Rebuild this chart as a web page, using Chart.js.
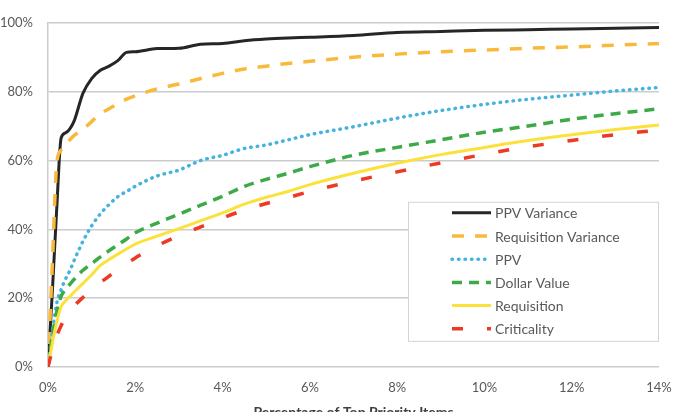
<!DOCTYPE html>
<html>
<head>
    <meta charset="utf-8">
    <title>Top Priority Items Coverage</title>
    <script src="https://cdn.jsdelivr.net/npm/chart.js"></script>
    <style>
        html, body { margin: 0; padding: 0; background: #fff; overflow: hidden; }
        .chart-box { width: 677px; height: 424px; position: relative; }
    </style>
</head>
<body>
    <div class="chart-box">
        <canvas id="coverageChart"></canvas>
    </div>

    <script>
        // percentage of top priority items (x, in %)
        const topItemsPct = [0, 0.1, 0.2, 0.3, 0.4, 0.5, 0.6, 0.8, 1.0, 1.2, 1.4, 1.6, 1.8, 2.0, 2.5,
                             3.0, 3.5, 4.0, 4.5, 5.0, 5.5, 6.0, 7.0, 8.0, 9.0, 10, 11, 12, 13, 14];

        // cumulative share captured (y, in %)
        const ppvVariance = [0, 22, 46, 66.5, 68, 69.2, 71.5, 79.5, 83.8, 86.2, 87.4, 89, 91.4, 91.6, 92.5,
                             92.6, 93.8, 94, 94.8, 95.3, 95.6, 95.8, 96.3, 97.2, 97.5, 97.8, 98, 98.2, 98.4, 98.6];
        const requisitionVariance = [0, 30, 59, 63, 64.7, 66, 67.3, 69, 71.3, 73.6, 75, 76.5, 77.8, 78.8, 80.8,
                             82.2, 83.8, 85.3, 86.6, 87.4, 88.2, 88.8, 90, 90.9, 91.6, 92.1, 92.6, 93, 93.5, 94];
        const ppv = [0, 10, 18.5, 22.5, 25.5, 28, 31, 36.5, 41, 44.5, 47.2, 49.5, 51, 52.5, 55.5,
                             57.2, 60, 61.5, 63.5, 64.5, 66, 67.5, 69.8, 72.3, 74.5, 76.3, 77.8, 79, 80.2, 81.2];
        const dollarValue = [0, 9, 16, 20.5, 22.5, 24, 25.5, 28.1, 30, 32, 33.8, 35.5, 37.2, 39, 41.8,
                             44.4, 47, 49.6, 52.5, 54.5, 56.3, 58.2, 61.5, 63.8, 66, 68.2, 70, 72, 73.6, 75];
        const requisition = [0, 7, 13, 17.5, 19.2, 20.5, 21.8, 24.3, 26.8, 29.5, 31.2, 32.8, 34.3, 35.7, 38,
                             40.2, 42.5, 44.8, 47.3, 49.3, 51, 53, 56.3, 59.2, 61.7, 63.8, 65.8, 67.5, 69, 70.3];
        const criticality = [0, 5, 9, 12, 14.2, 16, 17.7, 20.2, 22.5, 24.5, 26.4, 28.3, 30, 31.7, 35.2,
                             38.2, 40.7, 43.3, 45.6, 47.5, 49.2, 51, 54, 56.7, 59.3, 61.8, 64, 65.8, 67.5, 68.8];

        const seriesNames = ['PPV Variance', 'Requisition Variance', 'PPV', 'Dollar Value', 'Requisition', 'Criticality'];
        const seriesValues = [ppvVariance, requisitionVariance, ppv, dollarValue, requisition, criticality];

        const seriesStyles = [
            { color: '#262626', width: 3,   dash: [],        cap: 'butt' },
            { color: '#F9BA3C', width: 3.5, dash: [12, 11],  cap: 'butt' },
            { color: '#45B3E0', width: 3.5, dash: [0.5, 6],  cap: 'round' },
            { color: '#3BAA47', width: 3.5, dash: [10, 7],   cap: 'butt' },
            { color: '#FCE13A', width: 3,   dash: [],        cap: 'butt' },
            { color: '#EC3A25', width: 3.5, dash: [11, 24],  cap: 'butt' }
        ];

        const textFont = 'Lato, "Open Sans", sans-serif';
        const gridColor = '#cccccc';

        const datasets = seriesNames.map((name, i) => ({
            label: name,
            data: topItemsPct.map((x, j) => ({ x: x, y: seriesValues[i][j] })),
            borderColor: seriesStyles[i].color,
            backgroundColor: seriesStyles[i].color,
            borderWidth: seriesStyles[i].width,
            borderDash: seriesStyles[i].dash,
            borderCapStyle: seriesStyles[i].cap,
            pointRadius: 0,
            fill: false,
            cubicInterpolationMode: 'monotone',
            order: seriesNames.length - i
        }));

        // legend box drawn inside the plot, lower right
        const insideLegend = {
            id: 'insideLegend',
            afterDatasetsDraw(chart) {
                const ctx = chart.ctx;
                const area = chart.chartArea;
                const boxW = 250, boxH = 139;
                const left = area.right - boxW - 1;
                const top = area.top + 179;
                ctx.save();
                ctx.fillStyle = '#ffffff';
                ctx.fillRect(left, top, boxW, boxH);
                ctx.strokeStyle = '#d4d4d4';
                ctx.lineWidth = 1;
                ctx.strokeRect(left + 0.5, top + 0.5, boxW, boxH);
                ctx.font = '14px ' + textFont;
                ctx.textBaseline = 'middle';
                ctx.textAlign = 'left';
                chart.data.datasets.forEach((ds, i) => {
                    const y = top + 11 + i * 23.2;
                    ctx.beginPath();
                    ctx.strokeStyle = ds.borderColor;
                    ctx.lineWidth = ds.borderWidth;
                    ctx.setLineDash(ds.borderDash);
                    ctx.lineCap = ds.borderCapStyle;
                    ctx.moveTo(left + 44, y);
                    ctx.lineTo(left + 83, y);
                    ctx.stroke();
                    ctx.setLineDash([]);
                    ctx.fillStyle = '#595959';
                    ctx.fillText(ds.label, left + 87, y + 1);
                });
                ctx.restore();
            }
        };

        const ctx = document.getElementById('coverageChart').getContext('2d');
        const chart = new Chart(ctx, {
            type: 'line',
            data: { datasets: datasets },
            plugins: [insideLegend],
            options: {
                responsive: true,
                maintainAspectRatio: false,
                animation: false,
                devicePixelRatio: 1,
                layout: { padding: { top: 22, right: 18, left: 0, bottom: 0 } },
                plugins: {
                    legend: { display: false },
                    tooltip: { enabled: false }
                },
                scales: {
                    x: {
                        type: 'linear',
                        min: 0,
                        max: 14,
                        afterFit: (scale) => {
                            scale.height = 57;
                            scale.paddingLeft = 0;
                            scale.paddingRight = 0;
                        },
                        ticks: {
                            stepSize: 2,
                            padding: 13,
                            color: '#595959',
                            font: { family: textFont, size: 13 },
                            callback: (v) => v + '%'
                        },
                        grid: { display: false, drawTicks: false },
                        border: { display: false },
                        title: {
                            display: true,
                            text: 'Percentage of Top Priority Items',
                            color: '#404040',
                            font: { family: textFont, size: 14, weight: 'bold' },
                            padding: { top: 0, bottom: 3 }
                        }
                    },
                    y: {
                        min: 0,
                        max: 100,
                        afterFit: (scale) => { scale.width = 48; },
                        ticks: {
                            stepSize: 20,
                            padding: 15,
                            color: '#595959',
                            font: { family: textFont, size: 13 },
                            callback: (v) => v + '%'
                        },
                        grid: { color: gridColor, lineWidth: 1.5, drawTicks: false },
                        border: { display: true, color: gridColor, width: 1.5 }
                    }
                }
            }
        });
    </script>
</body>
</html>
